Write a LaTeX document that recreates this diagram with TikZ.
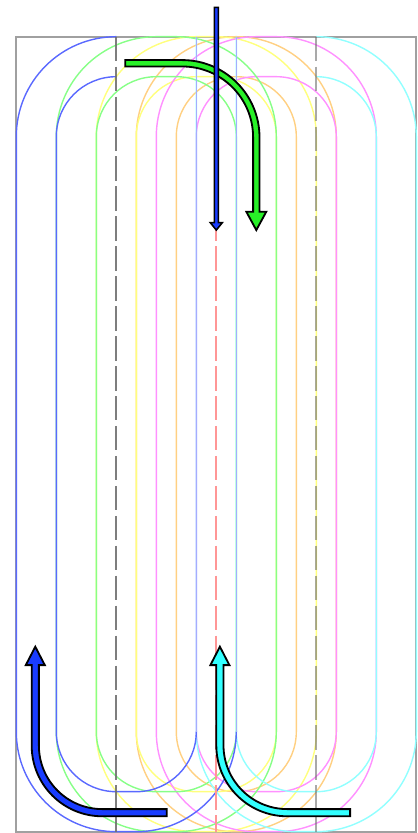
\documentclass[tikz,border=0pt]{standalone}
\usepackage{tikz}

\definecolor{frameGray}{RGB}{160,160,160}
\definecolor{guideGray}{RGB}{112,112,112}
\definecolor{guideRed}{RGB}{255,150,150}
\definecolor{loopBlue}{RGB}{90,105,255}
\definecolor{loopBlueLight}{RGB}{165,172,255}
\definecolor{loopGreen}{RGB}{135,255,135}
\definecolor{loopYellow}{RGB}{255,255,125}
\definecolor{loopOrange}{RGB}{255,208,130}
\definecolor{loopMagenta}{RGB}{255,145,255}
\definecolor{loopCyan}{RGB}{145,255,255}
\definecolor{flowBlue}{RGB}{25,60,255}
\definecolor{flowGreen}{RGB}{40,240,40}
\definecolor{flowCyan}{RGB}{50,255,255}

\tikzset{
  loopline/.style={line width=1pt},
  guide/.style={line width=1.4pt, dash pattern=on 17.4pt off 3.9pt},
  flow/.style={draw=black, line width=1.3pt, line join=miter},
}

\begin{document}
\begin{tikzpicture}[x=0.5cm, y=0.5cm]
        \useasboundingbox (-0.815,-0.065) rectangle (20.035,41.585);

        \draw[frameGray, line width=1.4pt] (0,0) rectangle (20,39.75);

        % closed loops, back to front
        \foreach \a/\w/\c in {6/10/loopOrange, 4/11/loopYellow, 7/11/loopMagenta, 2/11/loopGreen} {
            \draw[loopline, \c, rounded corners=2.5cm] (\a,0) rectangle ({\a+\w},39.75);
            \draw[loopline, \c, rounded corners=1.5cm] ({\a+2},2) rectangle ({\a+\w-2},37.75);
        }

        % open loops cut at the dashed lines
        \draw[loopline, loopCyan, rounded corners=2.5cm] (15,39.75) -| (20,0) -| (9,39.75);
        \draw[loopline, loopCyan, rounded corners=1.5cm] (15,37.75) -| (18,2) -| (11,39.75);
        \draw[loopline, loopBlue, rounded corners=2.5cm] (5,39.75) -| (0,0) -| (11,5);
        \draw[loopline, loopBlue, rounded corners=1.5cm] (5,37.75) -| (2,2) -| (9,5);
        \draw[loopline, loopBlueLight] (11,5) -- (11,39.75);
        \draw[loopline, loopBlueLight] (9,5) -- (9,39.75);

        \draw[guide, guideRed] (10,39.75) -- (10,0);
        \draw[guide, guideGray, draw opacity=0.9] (5,39.75) -- (5,0);
        \draw[guide, guideGray, draw opacity=0.6] (15,39.75) -- (15,0);

        \coordinate (gin) at (5.45,38.42);
        \coordinate (bin) at (10,41.22);
        \coordinate (bout) at (7.52,0.95);
        \coordinate (cout) at (16.69,0.95);

        \draw[flow, fill=flowGreen] (gin) ++(0,0.16) -- ++(2.85,0)
            arc[start angle=90, end angle=0, radius=3.86] -- ++(0,-3.72)
            -- ++(0.34,0) -- ++(-0.5,-0.92) -- ++(-0.5,0.92) -- ++(0.34,0)
            -- ++(0,3.72) arc[start angle=0, end angle=90, radius=3.54]
            -- ++(-2.85,0) -- cycle;
        \draw[flow, fill=flowBlue, line width=1.1pt] (bin) ++(-0.1,0) -- ++(0,-10.77)
            -- ++(-0.2,0) -- ++(0.3,-0.37) -- ++(0.3,0.37) -- ++(-0.2,0)
            -- ++(0,10.77) -- cycle;
        \draw[flow, fill=flowBlue] (bout) ++(0,-0.18) -- ++(-3.22,0)
            arc[start angle=270, end angle=180, radius=3.53] -- ++(0,4.03)
            -- ++(-0.295,0) -- ++(0.475,0.92) -- ++(0.475,-0.92) -- ++(-0.295,0)
            -- ++(0,-4.03) arc[start angle=180, end angle=270, radius=3.17]
            -- ++(3.22,0) -- cycle;
        \draw[flow, fill=flowCyan] (cout) ++(0,-0.18) -- ++(-3.14,0)
            arc[start angle=270, end angle=180, radius=3.55] -- ++(0,4.01)
            -- ++(-0.295,0) -- ++(0.475,0.92) -- ++(0.475,-0.92) -- ++(-0.295,0)
            -- ++(0,-4.01) arc[start angle=180, end angle=270, radius=3.19]
            -- ++(3.14,0) -- cycle;
\end{tikzpicture}
\end{document}
